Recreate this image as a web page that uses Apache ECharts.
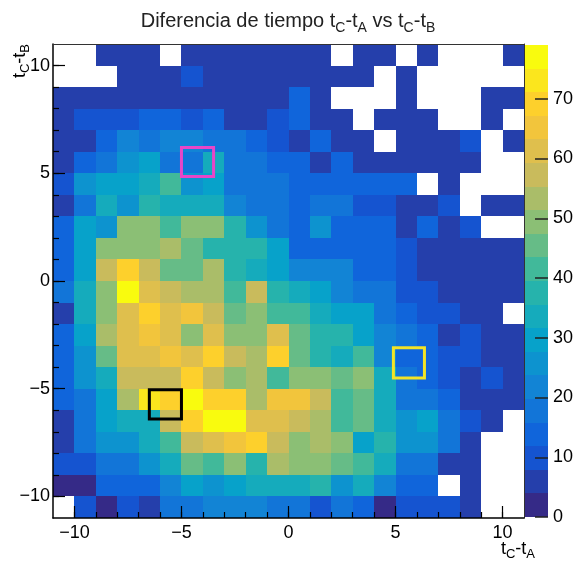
<!DOCTYPE html>
<html>
<head>
<meta charset="utf-8">
<script src="https://cdn.jsdelivr.net/npm/echarts@6/dist/echarts.min.js"></script>
<style>
html,body{margin:0;padding:0;background:#fff;}
#chart{width:576px;height:562px;}
</style>
</head>
<body>
<div id="chart"></div>
<script>
// ---------------- DATA ----------------
// bin centres (tC - tA on x, tC - tB on y), 1-unit bins from -11 to 11
const xBinCenters = [-10.5,-9.5,-8.5,-7.5,-6.5,-5.5,-4.5,-3.5,-2.5,-1.5,-0.5,0.5,1.5,2.5,3.5,4.5,5.5,6.5,7.5,8.5,9.5,10.5];
const yBinCenters = [10.5,9.5,8.5,7.5,6.5,5.5,4.5,3.5,2.5,1.5,0.5,-0.5,-1.5,-2.5,-3.5,-4.5,-5.5,-6.5,-7.5,-8.5,-9.5,-10.5];

// counts per row (one array per y bin, left to right along x); 0 = empty bin
const counts_y10_5  = [0,0,5,5,5,0,5,5,5,5,5,5,5,0,5,5,0,5,0,0,0,5];
const counts_y9_5   = [0,0,0,5,5,5,9,5,5,5,5,5,5,5,5,0,5,0,0,0,0,0];
const counts_y8_5   = [5,5,5,5,5,5,5,5,5,5,5,12,5,0,0,0,5,0,0,0,5,5];
const counts_y7_5   = [5,10,10,10,14,14,9,14,5,5,10,12,5,5,0,5,5,5,0,0,5,0];
const counts_y6_5   = [5,7,15,23,17,21,21,17,17,12,8,5,12,5,5,0,5,5,5,11,0,5];
const counts_y5_5   = [4,13,19,25,30,19,16,32,19,17,15,15,5,12,5,5,5,5,5,5,0,0];
const counts_y4_5   = [9,25,31,29,32,42,25,31,19,19,17,13,13,12,12,12,12,0,5,0,0,0];
const counts_y3_5   = [6,19,35,25,37,34,33,33,21,19,18,15,17,17,11,11,5,5,9,0,5,5];
const counts_y2_5   = [12,29,25,48,48,41,48,48,38,26,19,15,25,15,12,12,5,12,5,9,0,0];
const counts_y1_5   = [12,29,48,48,48,54,44,38,38,37,29,15,13,13,14,14,9,5,5,5,5,5];
const counts_y0_5   = [12,29,58,69,56,46,46,53,39,35,29,23,23,22,14,14,9,5,5,5,5,5];
const counts_ym0_5  = [19,35,48,78,63,59,55,55,41,59,38,35,29,22,17,17,9,9,5,5,5,5];
const counts_ym1_5  = [6,35,50,63,70,61,67,59,46,48,41,41,35,29,29,19,15,9,9,5,5,0];
const counts_ym2_5  = [12,29,55,63,67,61,50,61,50,50,61,44,38,39,29,22,19,12,5,9,5,5];
const counts_ym3_5  = [15,25,45,63,60,67,60,71,57,55,68,46,38,32,41,22,15,15,9,9,5,5];
const counts_ym4_5  = [15,25,35,56,56,59,68,58,50,53,41,49,48,47,50,32,19,15,9,5,9,5];
const counts_ym5_5  = [12,19,29,55,72,70,76,68,68,55,65,65,58,41,46,35,19,18,12,5,5,5];
const counts_ym6_5  = [6,19,29,35,35,59,68,77,76,63,61,59,55,41,44,35,25,29,19,9,5,0];
const counts_ym7_5  = [6,19,25,25,32,41,58,63,65,68,59,48,53,48,29,38,25,25,19,5,0,0];
const counts_ym8_5  = [9,9,18,19,25,35,44,41,48,38,53,48,48,46,41,35,19,18,5,5,0,0];
const counts_ym9_5  = [2,2,12,12,15,22,29,25,29,32,35,35,38,25,32,22,15,12,0,5,0,0];
const counts_ym10_5 = [0,10,2,10,6,16,16,20,20,20,19,18,10,18,15,3,10,10,10,4,0,0];

const countRows = [counts_y10_5,counts_y9_5,counts_y8_5,counts_y7_5,counts_y6_5,counts_y5_5,
  counts_y4_5,counts_y3_5,counts_y2_5,counts_y1_5,counts_y0_5,counts_ym0_5,counts_ym1_5,
  counts_ym2_5,counts_ym3_5,counts_ym4_5,counts_ym5_5,counts_ym6_5,counts_ym7_5,counts_ym8_5,
  counts_ym9_5,counts_ym10_5];

// axis ticks / labels
const axisMajorTicks = [-10,-5,0,5,10];
const axisMinorTicks = [-10,-9,-8,-7,-6,-5,-4,-3,-2,-1,0,1,2,3,4,5,6,7,8,9,10];
const zTickLabels = [0,10,20,30,40,50,60,70];
const zMax = 79;
const nLevels = 20;

// annotation boxes drawn on the picture, in data units: [x1, y1, x2, y2]
const boxBlack   = [-6.5, -5.05, -5.0, -6.4];
const boxMagenta = [-5.0, 6.2, -3.5, 4.85];
const boxYellow  = [4.9, -3.1, 6.35, -4.5];

// ---------------- BUILD ----------------
const binW = xBinCenters[1] - xBinCenters[0];
const heatData = [];
countRows.forEach((row, j) => {
  row.forEach((c, i) => { if (c > 0) heatData.push([xBinCenters[i], yBinCenters[j], c]); });
});

// ROOT kBird palette
const birdStops = [0,0.125,0.25,0.375,0.5,0.625,0.75,0.875,1];
const birdR = [0.2082,0.0592,0.0780,0.0232,0.1802,0.5301,0.8186,0.9956,0.9764];
const birdG = [0.1664,0.3599,0.5041,0.6419,0.7178,0.7492,0.7328,0.7862,0.9832];
const birdB = [0.5293,0.8684,0.8385,0.7914,0.6425,0.4662,0.3499,0.1968,0.0539];
function birdColor(f) {
  f = Math.max(0, Math.min(1, f));
  let k = 0;
  while (k < birdStops.length - 2 && f > birdStops[k + 1]) k++;
  const t = (f - birdStops[k]) / (birdStops[k + 1] - birdStops[k]);
  const c = a => Math.round(255 * (a[k] + (a[k + 1] - a[k]) * t));
  return 'rgb(' + c(birdR) + ',' + c(birdG) + ',' + c(birdB) + ')';
}
const dz = zMax / nLevels;
const pieces = [];
for (let k = 0; k < nLevels; k++) {
  const p = { gte: k * dz, color: birdColor(k / (nLevels - 1)) };
  if (k < nLevels - 1) p.lt = (k + 1) * dz;
  pieces.push(p);
}
const colorbarData = [];
for (let k = 0; k < nLevels; k++) colorbarData.push([0.5, k * dz, (k + 0.5) * dz]);

const boxes = [
  boxBlack.concat(['#000000']),
  boxMagenta.concat(['#e846c8']),
  boxYellow.concat(['#f2e426'])
];

const FONT = "'Liberation Sans', Arial, Helvetica, sans-serif";
const fmt = v => v < 0 ? '\u2212' + Math.abs(v) : String(v);

const subRich = {
  m: { fontSize: 18, lineHeight: 24, verticalAlign: 'middle', fontFamily: FONT, color: '#000', fontWeight: 'normal' },
  s: { fontSize: 13, lineHeight: 13, verticalAlign: 'bottom', fontFamily: FONT, color: '#000', fontWeight: 'normal' }
};

const chart = echarts.init(document.getElementById('chart'), null, { renderer: 'canvas' });

const axisCommon = (extra) => Object.assign({
  type: 'value', min: -11, max: 11, z: 5,
  splitLine: { show: false }
}, extra);

chart.setOption({
  animation: false,
  backgroundColor: '#ffffff',
  title: {
    text: '{m|Diferencia de tiempo t}{s|C}{m|-t}{s|A}{m| vs t}{s|C}{m|-t}{s|B}',
    left: 'center', top: 8, padding: 0,
    textStyle: {
      fontWeight: 'normal',
      rich: {
        m: { fontSize: 20, lineHeight: 27, verticalAlign: 'middle', fontFamily: FONT, color: '#222', fontWeight: 'normal' },
        s: { fontSize: 14, lineHeight: 14, verticalAlign: 'bottom', fontFamily: FONT, color: '#222', fontWeight: 'normal' }
      }
    }
  },
  grid: [
    { left: 53, top: 44, width: 471, height: 474, containLabel: false },
    { left: 525, top: 45, width: 26, height: 472, containLabel: false }
  ],
  xAxis: [
    axisCommon({ gridIndex: 0, position: 'bottom',
      axisLine: { show: true, onZero: false, lineStyle: { color: '#000', width: 1.5 } },
      axisTick: { show: true, inside: true, length: 6, customValues: axisMinorTicks, lineStyle: { color: '#000', width: 1.2 } },
      axisLabel: { show: true, customValues: axisMajorTicks, formatter: fmt, fontSize: 18, fontFamily: FONT, color: '#000', margin: 6 } }),
    axisCommon({ gridIndex: 0, position: 'bottom',
      axisLine: { show: false, onZero: false },
      axisTick: { show: true, inside: true, length: 12, customValues: axisMajorTicks, lineStyle: { color: '#000', width: 1.2 } },
      axisLabel: { show: false } }),
    axisCommon({ gridIndex: 0, position: 'top',
      axisLine: { show: true, onZero: false, lineStyle: { color: '#333', width: 1 } },
      axisTick: { show: false }, axisLabel: { show: false } }),
    { type: 'value', gridIndex: 1, min: 0, max: 1, show: false, axisLine: { onZero: false } }
  ],
  yAxis: [
    axisCommon({ gridIndex: 0, position: 'left',
      axisLine: { show: true, onZero: false, lineStyle: { color: '#000', width: 1.5 } },
      axisTick: { show: true, inside: true, length: 6, customValues: axisMinorTicks, lineStyle: { color: '#000', width: 1.2 } },
      axisLabel: { show: true, customValues: axisMajorTicks, formatter: fmt, fontSize: 18, fontFamily: FONT, color: '#000', margin: 3 } }),
    axisCommon({ gridIndex: 0, position: 'left',
      axisLine: { show: false, onZero: false },
      axisTick: { show: true, inside: true, length: 12, customValues: axisMajorTicks, lineStyle: { color: '#000', width: 1.2 } },
      axisLabel: { show: false } }),
    axisCommon({ gridIndex: 0, position: 'right',
      axisLine: { show: true, onZero: false, lineStyle: { color: '#333', width: 1 } },
      axisTick: { show: false }, axisLabel: { show: false } }),
    { type: 'value', gridIndex: 1, min: 0, max: zMax, position: 'right', z: 5,
      splitLine: { show: false },
      axisLine: { show: false, onZero: false },
      axisTick: { show: true, inside: true, length: 13, customValues: zTickLabels, lineStyle: { color: '#222', width: 1.5 } },
      axisLabel: { show: true, customValues: zTickLabels, fontSize: 18, fontFamily: FONT, color: '#000', margin: 5 } }
  ],
  visualMap: {
    type: 'piecewise', show: false, dimension: 2, seriesIndex: [0, 1], pieces: pieces
  },
  series: [
    {
      type: 'custom', name: 'counts', xAxisIndex: 0, yAxisIndex: 0, z: 2,
      encode: { x: 0, y: 1 },
      data: heatData,
      renderItem: function (params, api) {
        const x = api.value(0), y = api.value(1);
        const p1 = api.coord([x - binW / 2, y + binW / 2]);
        const p2 = api.coord([x + binW / 2, y - binW / 2]);
        const x1 = Math.round(p1[0]), y1 = Math.round(p1[1]);
        const x2 = Math.round(p2[0]), y2 = Math.round(p2[1]);
        return { type: 'rect', shape: { x: x1, y: y1, width: x2 - x1, height: y2 - y1 },
          style: { fill: api.visual('color') } };
      }
    },
    {
      type: 'custom', name: 'palette', xAxisIndex: 3, yAxisIndex: 3, z: 2,
      encode: { x: 0, y: 1 },
      data: colorbarData,
      renderItem: function (params, api) {
        const lo = api.value(1);
        const top = api.coord([0, lo + dz])[1];
        const bot = api.coord([0, lo])[1];
        const cs = params.coordSys;
        return { type: 'rect', shape: { x: cs.x, y: Math.round(top), width: cs.width, height: Math.round(bot) - Math.round(top) },
          style: { fill: api.visual('color') } };
      }
    },
    {
      type: 'custom', name: 'boxes', xAxisIndex: 0, yAxisIndex: 0, z: 4,
      encode: { x: [0, 2], y: [1, 3] },
      data: boxes,
      renderItem: function (params, api) {
        const p1 = api.coord([api.value(0), api.value(1)]);
        const p2 = api.coord([api.value(2), api.value(3)]);
        return { type: 'rect', shape: { x: p1[0], y: p1[1], width: p2[0] - p1[0], height: p2[1] - p1[1] },
          style: { fill: 'none', stroke: boxes[params.dataIndex][4], lineWidth: 3 } };
      }
    }
  ],
  graphic: [
    { type: 'text', x: 535, y: 549, z: 10,
      style: { text: 't{s|C}{m|-t}{s|A}', rich: subRich, fontSize: 18, fontFamily: FONT, fill: '#000', align: 'right', verticalAlign: 'middle' } },
    { type: 'text', x: 20, y: 44, rotation: Math.PI / 2, z: 10,
      style: { text: 't{s|C}{m|-t}{s|B}', rich: subRich, fontSize: 18, fontFamily: FONT, fill: '#000', align: 'right', verticalAlign: 'middle' } }
  ]
});
</script>
</body>
</html>
